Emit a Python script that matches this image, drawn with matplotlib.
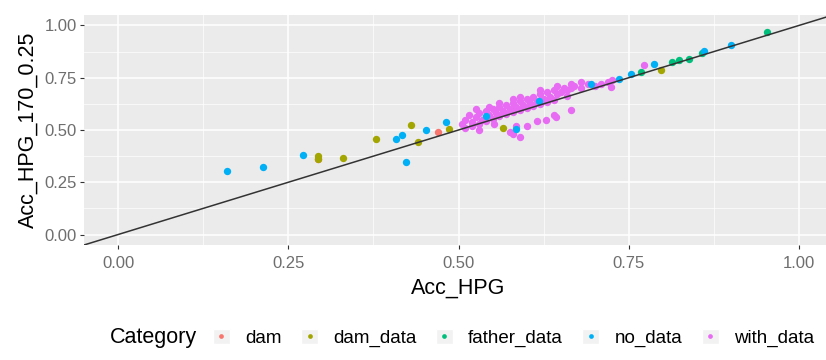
import matplotlib
matplotlib.use("Agg")
import matplotlib.pyplot as plt
from matplotlib import font_manager
from matplotlib.lines import Line2D
from matplotlib.patches import Rectangle
from matplotlib.ticker import MultipleLocator

# pick an Arial-like font
names = {f.name for f in font_manager.fontManager.ttflist}
plt.rcParams['font.family'] = 'Liberation Sans' if 'Liberation Sans' in names else 'DejaVu Sans'

# data
categories = ['dam', 'dam_data', 'father_data', 'no_data', 'with_data']
colors = ['#F8766D', '#A3A500', '#00BF7D', '#00B0F6', '#E76BF3']

dam_x = [0.470, 0.293]
dam_y = [0.492, 0.360]

dam_data_x = [0.294, 0.294, 0.330, 0.379, 0.430, 0.440, 0.486, 0.565, 0.797]
dam_data_y = [0.377, 0.362, 0.367, 0.455, 0.526, 0.445, 0.505, 0.510, 0.786]

father_data_x = [0.768, 0.814, 0.824, 0.838, 0.858, 0.953]
father_data_y = [0.776, 0.824, 0.834, 0.840, 0.868, 0.969]

no_data_x = [0.160, 0.213, 0.272, 0.408, 0.417, 0.423, 0.452, 0.481, 0.540,
             0.584, 0.618, 0.695, 0.736, 0.753, 0.787, 0.861, 0.900]
no_data_y = [0.305, 0.325, 0.382, 0.455, 0.478, 0.349, 0.498, 0.538, 0.568,
             0.503, 0.640, 0.722, 0.743, 0.770, 0.815, 0.877, 0.905]

with_data_x = [0.505, 0.510, 0.515, 0.520, 0.525, 0.530, 0.535, 0.540, 0.545, 0.550,
               0.555, 0.560, 0.565, 0.570, 0.575, 0.580, 0.585, 0.590, 0.595, 0.600,
               0.605, 0.610, 0.615, 0.620, 0.625, 0.630, 0.635, 0.640, 0.645, 0.650,
               0.655, 0.660, 0.665, 0.670, 0.680, 0.690, 0.700, 0.710, 0.720, 0.725,
               0.510, 0.520, 0.530, 0.540, 0.550, 0.560, 0.570, 0.580, 0.590, 0.600,
               0.610, 0.620, 0.630, 0.640, 0.660, 0.525, 0.545, 0.560, 0.580, 0.590,
               0.620, 0.645, 0.665, 0.680, 0.552, 0.584, 0.580, 0.600, 0.615, 0.628,
               0.640, 0.665, 0.643, 0.724, 0.772, 0.530, 0.575, 0.590]
with_data_y = [0.530, 0.550, 0.570, 0.540, 0.560, 0.580, 0.550, 0.590, 0.570, 0.600,
               0.580, 0.610, 0.590, 0.620, 0.600, 0.630, 0.610, 0.640, 0.620, 0.650,
               0.630, 0.660, 0.640, 0.670, 0.650, 0.680, 0.660, 0.690, 0.670, 0.680,
               0.700, 0.690, 0.700, 0.710, 0.700, 0.720, 0.710, 0.720, 0.730, 0.740,
               0.510, 0.520, 0.530, 0.545, 0.555, 0.565, 0.575, 0.585, 0.595, 0.605,
               0.615, 0.625, 0.635, 0.645, 0.665, 0.600, 0.610, 0.630, 0.650, 0.660,
               0.690, 0.710, 0.720, 0.730, 0.528, 0.520, 0.480, 0.520, 0.545, 0.550,
               0.570, 0.595, 0.560, 0.704, 0.810, 0.500, 0.490, 0.465]

series = [(dam_x, dam_y), (dam_data_x, dam_data_y), (father_data_x, father_data_y),
          (no_data_x, no_data_y), (with_data_x, with_data_y)]

fig = plt.figure(figsize=(8.26, 3.6), dpi=100)
ax = fig.add_axes([84 / 826, 115 / 360, 749 / 826, 230 / 360])
ax.set_facecolor('#EBEBEB')

# with_data first so the other groups stay visible on top
order = [4, 0, 1, 2, 3]
for i in order:
    xs, ys = series[i]
    ax.scatter(xs, ys, s=28, color=colors[i], linewidths=0, zorder=3)

ax.axline((0, 0), slope=1, color='#333333', lw=1.1, zorder=4)

ax.set_xlim(-0.05, 1.05)
ax.set_ylim(-0.05, 1.05)
ax.xaxis.set_major_locator(MultipleLocator(0.25))
ax.yaxis.set_major_locator(MultipleLocator(0.25))
ax.xaxis.set_minor_locator(MultipleLocator(0.125))
ax.yaxis.set_minor_locator(MultipleLocator(0.125))
ax.xaxis.set_major_formatter(plt.FuncFormatter(lambda v, p: f'{v:.2f}'))
ax.yaxis.set_major_formatter(plt.FuncFormatter(lambda v, p: f'{v:.2f}'))
ax.grid(which='major', color='white', lw=1.1)
ax.grid(which='minor', color='white', lw=0.5)
ax.set_axisbelow(True)
for s in ax.spines.values():
    s.set_visible(False)
ax.tick_params(which='major', length=3, width=0.8, color='#333333',
               labelcolor='#6E6E6E', labelsize=12)
ax.tick_params(axis='x', pad=5)
ax.tick_params(axis='y', pad=2)
ax.tick_params(which='minor', length=0)

ax.set_xlabel('Acc_HPG', fontsize=15.5, labelpad=5)
ax.set_ylabel('Acc_HPG_170_0.25', fontsize=15.5, labelpad=4)

# legend along the bottom
handles = [(Rectangle((0, 0), 1, 1, facecolor='#F2F2F2', edgecolor='white'),
            Line2D([], [], ls='', marker='o', markersize=3.4, color=c, markeredgewidth=0))
           for c in colors]
fig.text(110 / 826, 1 - 338 / 360, 'Category', fontsize=15.5, va='center', ha='left')
fig.legend(handles, categories, ncol=5, frameon=False, fontsize=13.5,
           loc='center left', bbox_to_anchor=(213 / 826, 1 - 338 / 360),
           handlelength=0.9, handleheight=0.9, handletextpad=0.8,
           columnspacing=1.05, borderpad=0, borderaxespad=0)

fig.savefig('out.png', dpi=100)
